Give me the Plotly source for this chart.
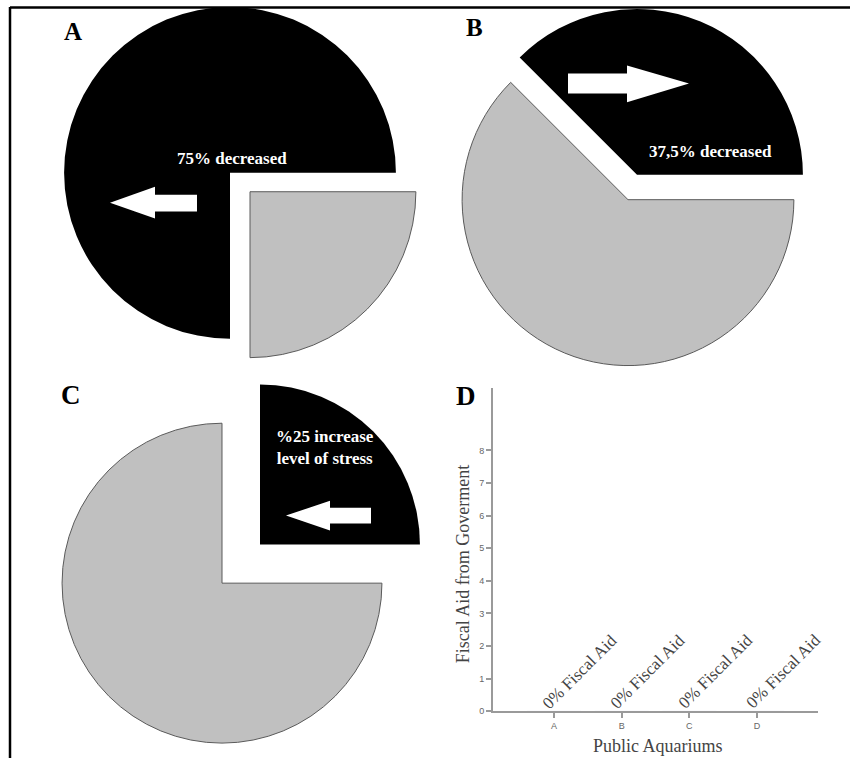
import plotly.graph_objects as go

W, H = 850, 763

# ---------------- data ----------------
pie_labels = ["Remaining", "Change"]
pie_a_values = [25, 75]      # gray, black : 75% decreased
pie_b_values = [62.5, 37.5]  # gray, black : 37,5% decreased
pie_c_values = [75, 25]      # gray, black : %25 increase level of stress
pie_colors = ["#c0c0c0", "#000000"]

pie_a_text = "75% decreased"
pie_b_text = "37,5% decreased"
pie_c_text = "%25 increase<br>level of stress"
panel_letters = ["A", "B", "C", "D"]

aquariums = ["A", "B", "C", "D"]
fiscal_aid = [0, 0, 0, 0]
aid_labels = ["0% Fiscal Aid", "0% Fiscal Aid", "0% Fiscal Aid", "0% Fiscal Aid"]
y_ticks = [0, 1, 2, 3, 4, 5, 6, 7, 8]
x_title = "Public Aquariums"
y_title = "Fiscal Aid from Goverment"

SERIF = "Liberation Serif, Times New Roman, serif"


def fx(px):
    return min(1, max(0, px / W))


def fy(py):
    return min(1, max(0, 1 - py / H))


def dom(cx, cy, r):
    return dict(x=[fx(cx - r), fx(cx + r)], y=[fy(cy + r), fy(cy - r)])


def slice_trace(values, show_idx, cx, cy, r):
    colors = ["rgba(0,0,0,0)", "rgba(0,0,0,0)"]
    colors[show_idx] = pie_colors[show_idx]
    lcol = ["rgba(0,0,0,0)", "rgba(0,0,0,0)"]
    lw = [0, 0]
    if show_idx == 0:
        lcol[0] = "#5a5a5a"
        lw[0] = 1
    return go.Pie(values=values, labels=pie_labels, sort=False,
                  direction="clockwise", rotation=90,
                  marker=dict(colors=colors, line=dict(color=lcol, width=lw)),
                  textinfo="none", hoverinfo="skip", showlegend=False,
                  domain=dom(cx, cy, r))


fig = go.Figure()

# Panel A: black 75% in place, gray 25% pulled out
fig.add_trace(slice_trace(pie_a_values, 1, 230, 174, 167))
fig.add_trace(slice_trace(pie_a_values, 0, 250, 193, 167))
# Panel B: gray in place, black 37.5% pulled out
fig.add_trace(slice_trace(pie_b_values, 0, 628, 201, 167))
fig.add_trace(slice_trace(pie_b_values, 1, 637, 176, 167))
# Panel C: gray 75% in place, black 25% pulled out
fig.add_trace(slice_trace(pie_c_values, 0, 222, 587, 161))
fig.add_trace(slice_trace(pie_c_values, 1, 260, 548, 161))

# Panel D: bar chart with zero values
fig.add_trace(go.Bar(x=aquariums, y=fiscal_aid, marker_color="#c0c0c0",
                     showlegend=False, hoverinfo="skip"))

axis_col = "#9a9a9a"
tick_font = dict(size=9, color="#666", family="Liberation Sans")
fig.update_layout(
    width=W, height=H,
    margin=dict(l=0, r=0, t=0, b=0),
    paper_bgcolor="white", plot_bgcolor="white",
    xaxis=dict(domain=[fx(493), fx(818)], anchor="y", range=[-0.9, 3.9],
               showgrid=False, zeroline=False, showline=True, linecolor=axis_col,
               linewidth=2, ticks="outside", ticklen=5, tickcolor=axis_col,
               tickwidth=1.5, tickfont=tick_font, fixedrange=True),
    yaxis=dict(domain=[fy(716), fy(391)], anchor="x", range=[0, 9.9],
               tickvals=y_ticks, showgrid=False, zeroline=False, showline=True,
               linecolor=axis_col, linewidth=2, ticks="outside", ticklen=5,
               tickcolor=axis_col, tickwidth=1.5, tickfont=tick_font,
               fixedrange=True),
)

ann = []
# panel letters
letter_pos = [(73, 32, 25), (474, 28, 25), (71, 398, 27), (466, 399, 27)]
for letter, (px, py, sz) in zip(panel_letters, letter_pos):
    ann.append(dict(x=fx(px), y=fy(py), xref="paper", yref="paper", text=letter,
                    showarrow=False, xanchor="center", yanchor="middle",
                    font=dict(family=SERIF, size=sz, color="black", weight="bold")))

# pie texts
for txt, px, py in [(pie_a_text, 232, 160), (pie_b_text, 710, 153), (pie_c_text, 325, 450)]:
    ann.append(dict(x=fx(px), y=fy(py), xref="paper", yref="paper", text=txt,
                    showarrow=False, xanchor="center", yanchor="middle",
                    font=dict(family=SERIF, size=17, color="white", weight="bold")))

# bar labels
for cat, lab in zip(aquariums, aid_labels):
    ann.append(dict(x=cat, y=0, xref="x", yref="y", text=lab, textangle=-45,
                    showarrow=False, xanchor="center", yanchor="middle",
                    xshift=26, yshift=40,
                    font=dict(family=SERIF, size=17, color="#444")))

# axis titles
ann.append(dict(x=fx(658), y=fy(751), xref="paper", yref="paper", text=x_title,
                showarrow=False, xanchor="center", yanchor="middle",
                font=dict(family=SERIF, size=18, color="#444")))
ann.append(dict(x=fx(463), y=fy(568), xref="paper", yref="paper", text=y_title,
                textangle=-90, showarrow=False, xanchor="center", yanchor="middle",
                font=dict(family=SERIF, size=18, color="#444")))
fig.update_layout(annotations=ann)


def arrow_path(pts):
    return "M " + " L ".join(f"{fx(x):.5f},{fy(y):.5f}" for x, y in pts) + " Z"


arrows = [
    [(110, 204), (155, 188), (155, 196), (197, 196), (197, 213), (155, 213), (155, 220)],
    [(568, 74), (627, 74), (627, 66), (689, 84), (627, 103), (627, 94), (568, 94)],
    [(286, 519), (330, 504), (330, 511), (371, 511), (371, 527), (330, 527), (330, 534)],
]
shapes = []
for pts in arrows:
    shapes.append(dict(type="path", xref="paper", yref="paper", path=arrow_path(pts),
                       fillcolor="white", line=dict(width=0), layer="above"))
# frame (left and top)
shapes.append(dict(type="line", xref="paper", yref="paper", x0=fx(10), x1=fx(10),
                   y0=fy(7), y1=0, line=dict(color="black", width=2.5)))
shapes.append(dict(type="line", xref="paper", yref="paper", x0=fx(10), x1=1,
                   y0=fy(7.5), y1=fy(7.5), line=dict(color="black", width=2.5)))
fig.update_layout(shapes=shapes)

fig.write_html(
    "out.html",
    config={"displayModeBar": False},
    post_script="document.body.style.margin='0';document.body.style.padding='0';"
                "document.documentElement.style.overflow='hidden';",
)
